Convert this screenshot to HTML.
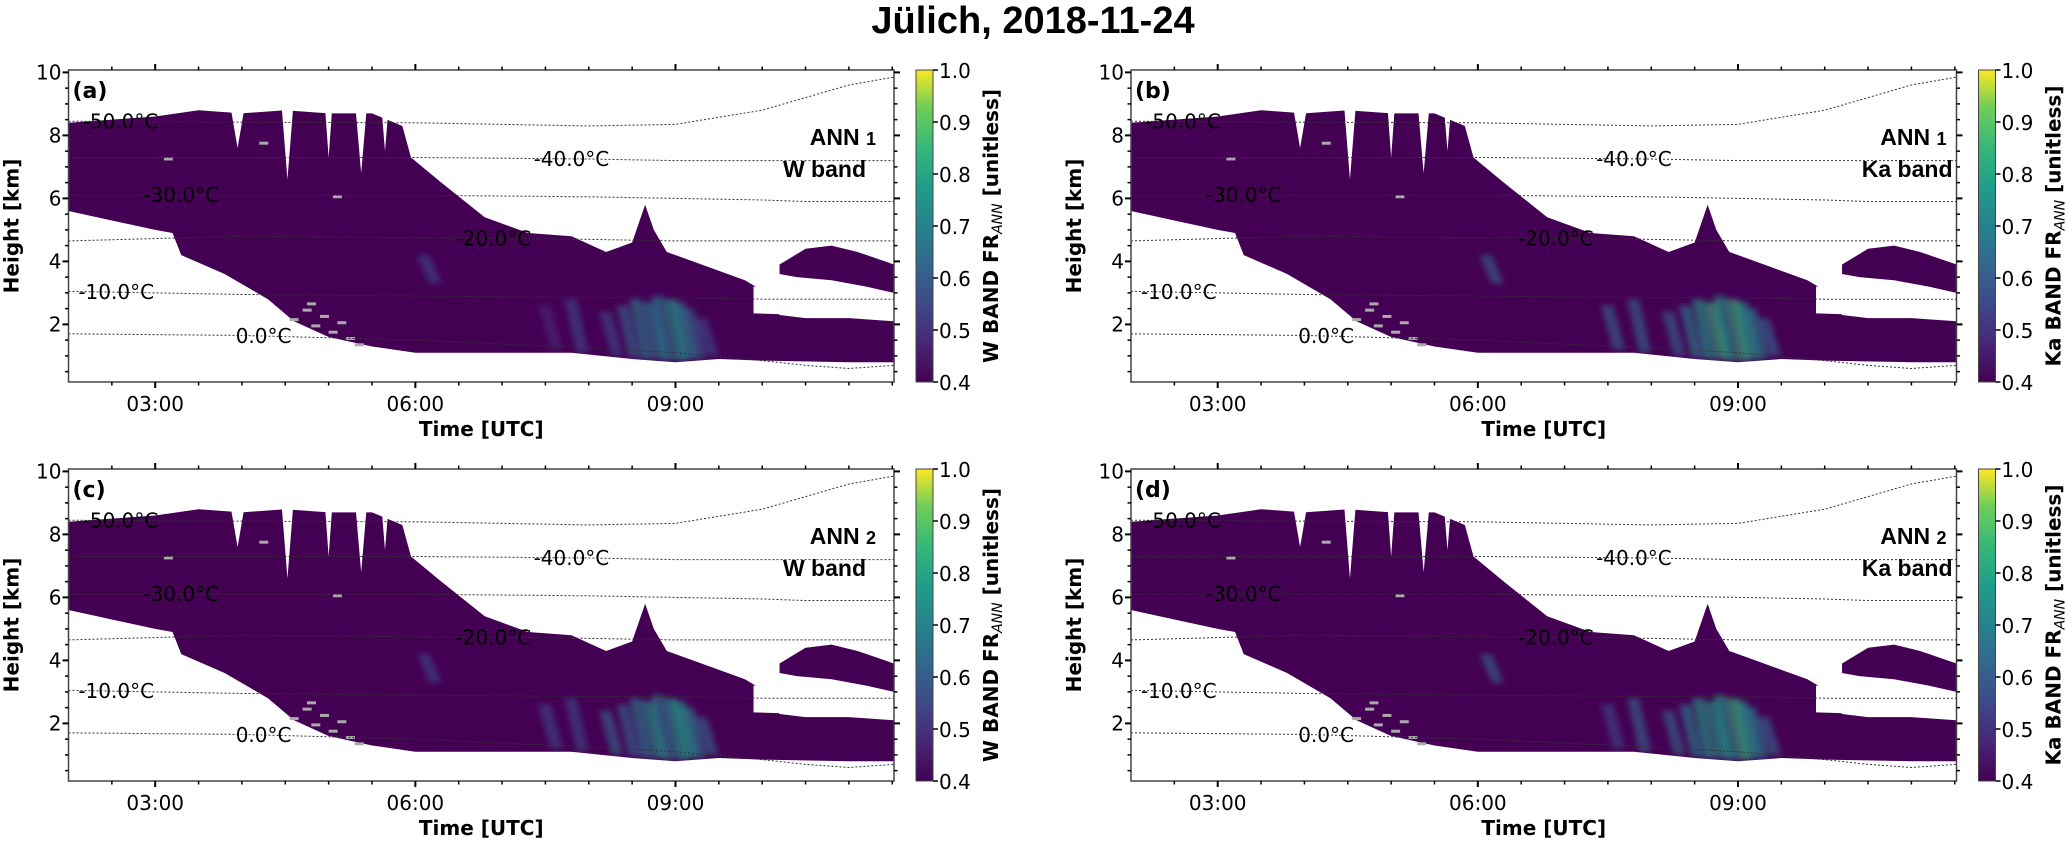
<!DOCTYPE html>
<html><head><meta charset="utf-8"><style>
html,body{margin:0;padding:0;background:#fff;}
svg{display:block;font-family:"DejaVu Sans","Liberation Sans",sans-serif;}
</style></head><body>
<svg id="fig" width="2067" height="841" viewBox="0 0 2067 841" xmlns="http://www.w3.org/2000/svg">
<defs>
<linearGradient id="viridis" x1="0" y1="1" x2="0" y2="0">
<stop offset="0" stop-color="#440154"/><stop offset="0.13" stop-color="#482878"/><stop offset="0.25" stop-color="#3e4989"/><stop offset="0.38" stop-color="#31688e"/><stop offset="0.5" stop-color="#26828e"/><stop offset="0.63" stop-color="#1f9e89"/><stop offset="0.75" stop-color="#35b779"/><stop offset="0.88" stop-color="#6ece58"/><stop offset="1" stop-color="#fde725"/>
</linearGradient>
<filter id="blur" x="-50%" y="-20%" width="200%" height="140%"><feGaussianBlur stdDeviation="3"/></filter>
</defs>
<text x="1033" y="33" text-anchor="middle" font-family="Liberation Sans, sans-serif" font-weight="bold" font-size="38">Jülich, 2018-11-24</text>
</svg>
<script>
// ---- data ----
const topTimes=[2.0,2.5,3.0,3.5,4.0,4.5,5.0,5.5,5.85,5.95,6.3,6.8,7.3,7.8,8.2,8.5,8.65,8.75,8.9,9.3,9.8,10.05,10.2,10.5,11.0,11.52];
const topHeights=[8.4,8.5,8.6,8.8,8.7,8.8,8.7,8.7,8.3,7.3,6.5,5.4,4.9,4.8,4.3,4.6,5.8,5.0,4.3,3.9,3.4,3.0,2.3,2.2,2.2,2.1];
const baseTimes=[11.52,11.0,10.0,9.5,9.0,8.5,7.8,7.0,6.0,5.5,5.0,4.6,4.3,3.8,3.3,3.2,3.0,2.5,2.0];
const baseHeights=[0.8,0.8,0.85,0.9,0.8,0.9,1.1,1.1,1.1,1.3,1.6,2.1,2.8,3.6,4.2,4.9,5.0,5.3,5.6];
const gaps=[[3.85,4.05,7.6],[4.45,4.6,6.6],[4.95,5.05,7.3],[5.3,5.45,6.8],[5.6,5.7,7.5],[6.15,6.4,6.8]];
const blobTimes=[10.2,10.5,10.8,11.1,11.52,11.52,11.2,10.8,10.4,10.2];
const blobHeights=[3.9,4.4,4.5,4.3,3.9,3.0,3.2,3.4,3.5,3.6];
const holeTimes=[9.9,10.5,10.5,9.9];
const holeHeights=[3.2,3.2,2.3,2.35];
const streakT=[7.5,7.8,8.2,8.4,8.55,8.7,8.8,8.95,9.05,9.15,9.3,6.1];
const streakBot=[1.2,1.1,1.0,0.95,0.9,0.9,0.85,0.85,0.9,0.9,1.0,3.3];
const streakTop=[2.6,2.8,2.4,2.6,2.8,2.7,2.9,2.8,2.7,2.5,2.2,4.2];
const streakVal=[0.5,0.52,0.55,0.6,0.65,0.7,0.66,0.72,0.68,0.62,0.55,0.52];
const grayT=[4.55,4.7,4.8,4.9,5.0,5.1,5.2,5.3,4.75,3.1,4.2,5.05];
const grayH=[2.2,2.5,2.0,2.3,1.8,2.1,1.6,1.4,2.7,7.3,7.8,6.1];
const isoLabels=["-50.0°C","-40.0°C","-30.0°C","-20.0°C","-10.0°C","0.0°C"];
const isoTimes=[2.0,4.0,6.0,8.0,9.0,10.0,10.5,11.0,11.52];
const isoHeights=[
 [8.45,8.42,8.4,8.3,8.35,8.8,9.2,9.6,9.85],
 [7.3,7.3,7.3,7.25,7.2,7.2,7.2,7.2,7.2],
 [6.1,6.1,6.1,6.05,6.0,5.95,5.9,5.9,5.9],
 [4.65,4.8,4.75,4.7,4.65,4.65,4.65,4.65,4.65],
 [3.05,2.95,2.9,2.85,2.85,2.8,2.8,2.8,2.8],
 [1.7,1.65,1.5,1.25,1.1,0.85,0.7,0.6,0.7]];
const isoLabelT=[2.6,7.8,3.3,6.9,2.55,4.25];
const xTickLabels=["03:00","06:00","09:00"];
const xTickVals=[3,6,9];
const yTickVals=[2,4,6,8,10];
const cbTicks=[0.4,0.5,0.6,0.7,0.8,0.9,1.0];
const panels=[
 {id:"a",x:68.5,y:70,ann:"1",band:"W band",cb:"W",boost:0},
 {id:"b",x:1131,y:70,ann:"1",band:"Ka band",cb:"Ka",boost:0.08},
 {id:"c",x:68.5,y:469,ann:"2",band:"W band",cb:"W",boost:0.02},
 {id:"d",x:1131,y:469,ann:"2",band:"Ka band",cb:"Ka",boost:0.06}];
const W=825.5,H=312,T0=2.0,T1=11.52,HTOP=10.076,PXKM=31.5;
const viridis=["#440154","#482878","#3e4989","#31688e","#26828e","#1f9e89","#35b779","#6ece58","#b5de2b","#fde725"];
function vcol(v){let f=Math.max(0,Math.min(1,(v-0.4)/0.6))*9;return viridis[Math.round(f)];}
const NS="http://www.w3.org/2000/svg";
const svg=document.getElementById('fig');
function mk(tag,attrs,parent){const e=document.createElementNS(NS,tag);for(const k in attrs)e.setAttribute(k,attrs[k]);(parent||svg).appendChild(e);return e;}
panels.forEach(p=>{
 const X=t=>p.x+(t-T0)/(T1-T0)*W;
 const Y=h=>p.y+(HTOP-h)*PXKM;
 const g=mk('g',{});
 
 
 const clipId='clip'+p.id;
 const cp=mk('clipPath',{id:clipId},g);mk('rect',{x:p.x,y:p.y,width:W,height:H},cp);
 const plot=mk('g',{'clip-path':'url(#'+clipId+')'},g);
 const pts=topTimes.map((t,i)=>X(t)+','+Y(topHeights[i])).concat(baseTimes.map((t,i)=>X(t)+','+Y(baseHeights[i]))).join(' ');
 const cloudClip='cc'+p.id;
 const ccp=mk('clipPath',{id:cloudClip},g);mk('polygon',{points:pts},ccp);
 const cloud=mk('polygon',{points:pts,fill:'#440154'},plot);
 
 
 const blob=mk('polygon',{points:blobTimes.map((t,i)=>X(t)+','+Y(blobHeights[i])).join(' '),fill:'#440154'},plot);
 
 
 const sg=mk('g',{'clip-path':'url(#'+cloudClip+')'},plot);
 const sg2=mk('g',{filter:'url(#blur)'},sg);
 streakT.forEach((t,i)=>{
  const s=mk('polygon',{points:X(t-0.08)+','+Y(streakTop[i])+' '+X(t+0.06)+','+Y(streakTop[i])+' '+X(t+0.2)+','+Y(streakBot[i])+' '+X(t+0.06)+','+Y(streakBot[i]),fill:vcol(streakVal[i]+p.boost),opacity:0.6},sg2);
  
  
 });
 gaps.forEach(gp=>{mk('polygon',{points:X(gp[0])+','+Y(9.2)+' '+X(gp[1])+','+Y(9.2)+' '+X((gp[0]+gp[1])/2)+','+Y(gp[2]),fill:'#fff'},plot);});
 mk('polygon',{points:holeTimes.map((t,i)=>X(t)+','+Y(holeHeights[i])).join(' '),fill:'#fff'},plot);
 grayT.forEach((t,i)=>{mk('rect',{x:X(t),y:Y(grayH[i]),width:9,height:3,fill:'#aaa'},plot);});
 isoHeights.forEach((hs,k)=>{
  const d=isoTimes.map((t,i)=>(i?'L':'M')+X(t)+' '+Y(hs[i])).join(' ');
  const ln=mk('path',{d:d,fill:'none',stroke:'#333',"stroke-width":1,"stroke-dasharray":'2,2'},plot);
  
  
  const lt=isoLabelT[k];let hh=hs[0];for(let i=1;i<isoTimes.length;i++){if(lt<=isoTimes[i]){const f=(lt-isoTimes[i-1])/(isoTimes[i]-isoTimes[i-1]);hh=hs[i-1]+f*(hs[i]-hs[i-1]);break;}}
  const tl=mk('text',{x:X(lt),y:Y(hh)+7,'text-anchor':'middle','font-size':20,fill:'#000'},plot);
  tl.textContent=isoLabels[k];
  
  
 });
 const fr=mk('rect',{x:p.x,y:p.y,width:W,height:H,fill:'none',stroke:'#444','stroke-width':1.5},g);
 
 
 for(let t=2.5;t<=11.5;t+=0.5){const maj=xTickVals.indexOf(t)>=0;const L=maj?6:3.5;
  mk('line',{x1:X(t),x2:X(t),y1:p.y+H,y2:p.y+H+L,stroke:'#000','stroke-width':maj?2:1.5},g);
  mk('line',{x1:X(t),x2:X(t),y1:p.y,y2:p.y-L,stroke:'#000','stroke-width':maj?2:1.5},g);}
 xTickVals.forEach((t,i)=>{const tx=mk('text',{x:X(t),y:p.y+H+29,'text-anchor':'middle','font-size':20},g);tx.textContent=xTickLabels[i];
  
  });
 for(let h=0.5;h<=10;h+=0.5){const maj=yTickVals.indexOf(h)>=0;const L=maj?6:3.5;
  mk('line',{x1:p.x,x2:p.x-L,y1:Y(h),y2:Y(h),stroke:'#000','stroke-width':maj?2:1.5},g);
  mk('line',{x1:p.x+W,x2:p.x+W+L,y1:Y(h),y2:Y(h),stroke:'#000','stroke-width':maj?2:1.5},g);}
 yTickVals.forEach(h=>{const ty=mk('text',{x:p.x-7,y:Y(h)+7,'text-anchor':'end','font-size':20},g);ty.textContent=h;
  
  });
 const xl=mk('text',{x:p.x+W/2,y:p.y+H+54,'text-anchor':'middle','font-size':20,'font-weight':'bold'},g);xl.textContent='Time [UTC]';
 
 
 const yl=mk('text',{x:0,y:0,'text-anchor':'middle','font-size':20,'font-weight':'bold',transform:'translate('+(p.x-50)+','+(p.y+H/2)+') rotate(-90)'},g);yl.textContent='Height [km]';
 
 
 const pl=mk('text',{x:p.x+4,y:p.y+28,'font-size':22,'font-weight':'bold'},g);pl.textContent='('+p.id+')';
 
 
 const a1=mk('text',{x:p.x+W-10,y:p.y+75,'text-anchor':'end','font-size':23,'font-weight':'bold','font-family':'Liberation Sans, sans-serif'},g);
 a1.textContent='ANN ';const s1=mk('tspan',{'font-size':18},a1);s1.textContent=p.ann;
 if(p.band==='W band'){a1.setAttribute('x',p.x+W-18);}
 
 
 const a2=mk('text',{x:p.x+W-(p.band==='W band'?28:4),y:p.y+107,'text-anchor':'end','font-size':23,'font-weight':'bold','font-family':'Liberation Sans, sans-serif'},g);a2.textContent=p.band;
 
 
 const cx=p.x+W+22;
 const cb=mk('rect',{x:cx,y:p.y,width:17,height:H,fill:'url(#viridis)',stroke:'#444','stroke-width':1},g);
 
 
 cbTicks.forEach(v=>{const yy=p.y+H-(v-0.4)/0.6*H;mk('line',{x1:cx+17,x2:cx+22,y1:yy,y2:yy,stroke:'#000','stroke-width':1.5},g);
  const tt=mk('text',{x:cx+23,y:yy+8,'font-size':20},g);tt.textContent=v.toFixed(1);
  
  });
 const cl=mk('text',{x:0,y:0,'text-anchor':'middle','font-size':20,'font-weight':'bold',transform:'translate('+(cx+82)+','+(p.y+H/2)+') rotate(-90)'},g);
 cl.textContent=p.cb+' BAND FR';const sb=mk('tspan',{'font-size':14,'font-style':'italic','font-weight':'normal',dy:4},cl);sb.textContent='ANN';
 const rest=mk('tspan',{dy:-4},cl);rest.textContent=' [unitless]';
 
 
});
</script>
</body></html>
